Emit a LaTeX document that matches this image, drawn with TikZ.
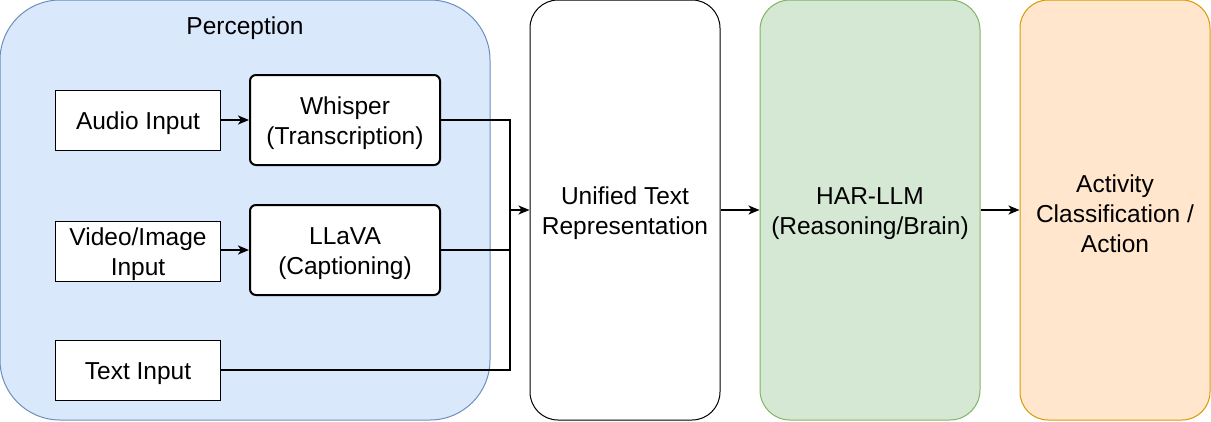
\documentclass[tikz,border=0pt]{standalone}
\usepackage{fontspec}
\setmainfont{Liberation Sans}
\usetikzlibrary{arrows.meta}
\definecolor{blueFill}{HTML}{DAE8FC}
\definecolor{blueLine}{HTML}{6C8EBF}
\definecolor{greenFill}{HTML}{D5E8D4}
\definecolor{greenLine}{HTML}{82B366}
\definecolor{orangeFill}{HTML}{FFE6CC}
\definecolor{orangeLine}{HTML}{D79B00}
\begin{document}
\begin{tikzpicture}[x=1pt,y=-1pt,
  every node/.style={font=\fontsize{24.5}{30}\selectfont, align=center, inner sep=0pt},
  txt/.style={yshift=-3.5pt},
  inbox/.style={draw=black, fill=white, line width=1pt, minimum width=165pt, minimum height=60pt},
  procbox/.style={draw=black, fill=white, line width=2pt, rounded corners=6pt, minimum width=190pt, minimum height=90pt},
  bigbox/.style={line width=1pt, minimum height=420pt},
  conn/.style={draw=black, line width=2pt},
  arr/.style={conn, -{Stealth[length=11pt, width=9pt, inset=3pt]}}
]
\useasboundingbox (0,0) rectangle (1211,421);
% containers
\node[bigbox, draw=blueLine, fill=blueFill, rounded corners=60pt, minimum width=490pt] (perc) at (245,210) {};
\node[txt] at (245,25) (perctitle) {Perception};
\node[bigbox, draw=black, fill=white, rounded corners=28pt, minimum width=190pt] (unified) at (625,210) {};
\node[txt] (unifiedtxt) at (unified) {Unified Text\\Representation};
\node[bigbox, draw=greenLine, fill=greenFill, rounded corners=30pt, minimum width=220pt] (har) at (870,210) {};
\node[txt] (hartxt) at (har) {HAR-LLM\\(Reasoning/Brain)};
\node[bigbox, draw=orangeLine, fill=orangeFill, rounded corners=28pt, minimum width=190pt] (act) at (1115,210) {};
\node[txt] (acttxt) at (act) {Activity\\Classification /\\Action};
% inputs
\node[inbox] (audio) at (138,120) {};
\node[txt] (audiotxt) at (audio) {Audio Input};
\node[inbox] (video) at (138,251) {};
\node[txt] (videotxt) at (video) {Video/Image\\Input};
\node[inbox] (text) at (138,370) {};
\node[txt] (texttxt) at (text) {Text Input};
% processors
\node[procbox] (whisper) at (345,120) {};
\node[txt] (whispertxt) at (whisper) {Whisper\\(Transcription)};
\node[procbox] (llava) at (345,250) {};
\node[txt] (llavatxt) at (llava) {LLaVA\\(Captioning)};
% connectors
\coordinate (merge) at (510,210);
\draw[arr] (audio.east) -- (whisper.west |- audio.east);
\draw[arr] (video.east |- llava.west) -- (llava.west);
\draw[conn] (whisper.east) -| (merge);
\draw[conn] (llava.east) -| (merge);
\draw[conn] (text.east) -| (merge);
\draw[arr] (merge) -- (unified.west |- merge);
\draw[arr] (unified.east |- merge) -- (har.west |- merge);
\draw[arr] (har.east |- merge) -- (act.west |- merge);
\end{tikzpicture}
\end{document}
